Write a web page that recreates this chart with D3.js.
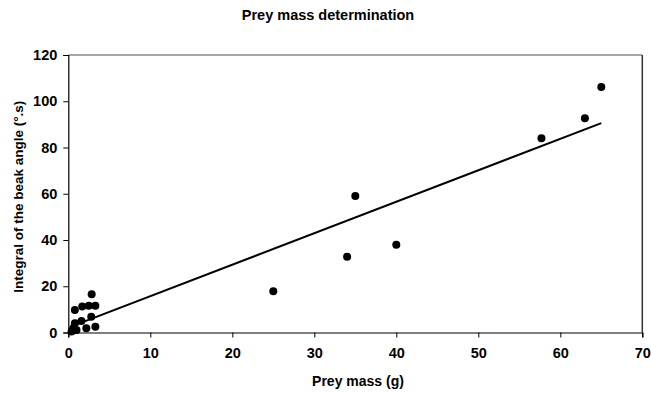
<!DOCTYPE html>
<html><head><meta charset="utf-8">
<script src="https://cdn.jsdelivr.net/npm/d3@7"></script>
<style>body{margin:0;background:#fff}svg{display:block}text{font-family:"Liberation Sans",Arial,sans-serif;font-weight:bold;fill:#000}</style>
</head><body><svg id="c" width="651" height="395"></svg>
<script>
const preyMass = [0.4, 0.6, 0.8, 0.8, 1.0, 1.6, 1.7, 2.2, 2.5, 2.8, 2.85, 3.3, 3.3, 25, 34, 35, 40, 57.7, 63, 65];
const beakIntegral = [0.4, 1.8, 9.7, 4.0, 1.1, 5.0, 11.2, 1.8, 11.6, 6.8, 16.5, 11.6, 2.5, 17.8, 32.8, 59, 38, 84, 92.6, 106.2];
const fitSlope = 1.361, fitIntercept = 2.1;
const xTicks = [0, 10, 20, 30, 40, 50, 60, 70];
const yTicks = [0, 20, 40, 60, 80, 100, 120];

const svg = d3.select("#c");
const L = 68.3, R = 642.3, T = 55, B = 332.5;
const x = d3.scaleLinear().domain([0, 70]).range([L, R]);
const y = d3.scaleLinear().domain([0, 120]).range([B, T]);

svg.append("line").attr("x1", L).attr("x2", R).attr("y1", T).attr("y2", T).attr("stroke", "#8a8a8a").attr("stroke-width", 1.5);
svg.append("line").attr("x1", R).attr("x2", R).attr("y1", T).attr("y2", B).attr("stroke", "#333").attr("stroke-width", 1.5);

const xa = svg.append("g").attr("transform", `translate(0,${B})`)
  .call(d3.axisBottom(x).tickValues(xTicks).tickSize(5).tickPadding(10).tickFormat(d3.format("d")));
const ya = svg.append("g").attr("transform", `translate(${L},0)`)
  .call(d3.axisLeft(y).tickValues(yTicks).tickSize(5).tickPadding(6).tickFormat(d3.format("d")));
[xa, ya].forEach(a => {
  a.select(".domain").attr("stroke", "#000").attr("stroke-width", 1.2);
  a.selectAll(".tick line").attr("stroke", "#000");
  a.selectAll("text").attr("font-size", 14.5).attr("font-family", '"Liberation Sans",Arial,sans-serif').attr("font-weight", "bold");
});

const x0 = d3.min(preyMass), x1 = d3.max(preyMass);
svg.append("line")
  .attr("x1", x(x0)).attr("y1", y(fitSlope * x0 + fitIntercept))
  .attr("x2", x(x1)).attr("y2", y(fitSlope * x1 + fitIntercept))
  .attr("stroke", "#000").attr("stroke-width", 2);

svg.append("g").selectAll("circle").data(preyMass.map((m, i) => [m, beakIntegral[i]]))
  .join("circle").attr("cx", d => x(d[0])).attr("cy", d => y(d[1])).attr("r", 4).attr("fill", "#000");

svg.append("text").attr("x", 328).attr("y", 20).attr("text-anchor", "middle").attr("font-size", 14.5).text("Prey mass determination");
svg.append("text").attr("x", 358).attr("y", 386).attr("text-anchor", "middle").attr("font-size", 14).text("Prey mass (g)");
svg.append("text").attr("transform", `translate(23,${(T + B) / 2 + 3}) rotate(-90)`).attr("text-anchor", "middle").attr("font-size", 13.5).text("Integral of the beak angle (°.s)");
</script></body></html>
